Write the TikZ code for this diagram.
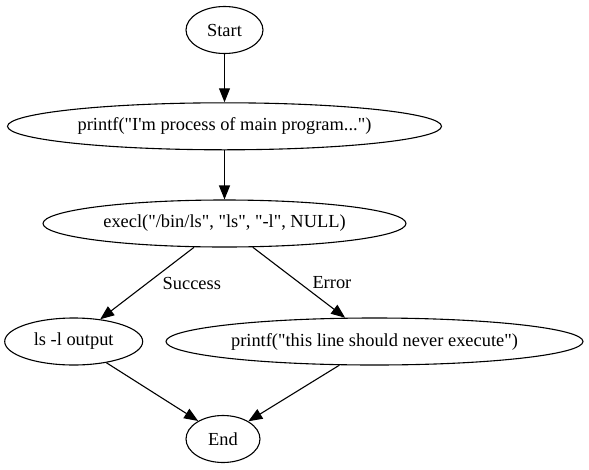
\documentclass[tikz,border=0pt]{standalone}
\usepackage{fontspec}
\setmainfont{Liberation Serif}[Ligatures=TeXOff]
\usetikzlibrary{positioning,shapes.geometric,arrows.meta}

\begin{document}
\begin{tikzpicture}[x=1pt,y=-1pt,line width=1.1pt,>={Triangle[length=14pt,width=11pt]},
    every node/.style={font=\fontsize{18.4}{22}\selectfont},
    step box/.style={draw,ellipse,inner sep=0pt,minimum height=47pt},
    edge label/.style={inner sep=0pt}]
            \useasboundingbox (0,0) rectangle (589,469);
            \node[step box,minimum width=77pt] (start) at (224.5,30) {Start};
            \node[step box,minimum width=434pt] (mainprint) at (224.5,126.3) {printf("I'm process of main program...")};
            \node[step box,minimum width=363pt] (execl) at (224.5,223.5) {execl("/bin/ls", "ls", "-l", NULL)};
            \node[step box,minimum width=138pt] (lsout) at (73.7,341.5) {ls -l output};
            \node[step box,minimum width=417pt] (neverprint) at (374.5,341.5) {printf("this line should never execute")};
            \node[step box,minimum width=74pt] (end) at (223,439) {End};
            \draw[->] (start) -- (mainprint);
            \draw[->] (mainprint) -- (execl);
            \draw[->] (execl.218) -- node[edge label,right=15pt] {Success} (lsout.40);
            \draw[->] (execl.320) -- node[edge label,right=13pt] {Error} (neverprint.141);
            \draw[->] (lsout.327) -- (end.144);
            \draw[->] (neverprint.214) -- (end.35);
        \end{tikzpicture}
\end{document}
